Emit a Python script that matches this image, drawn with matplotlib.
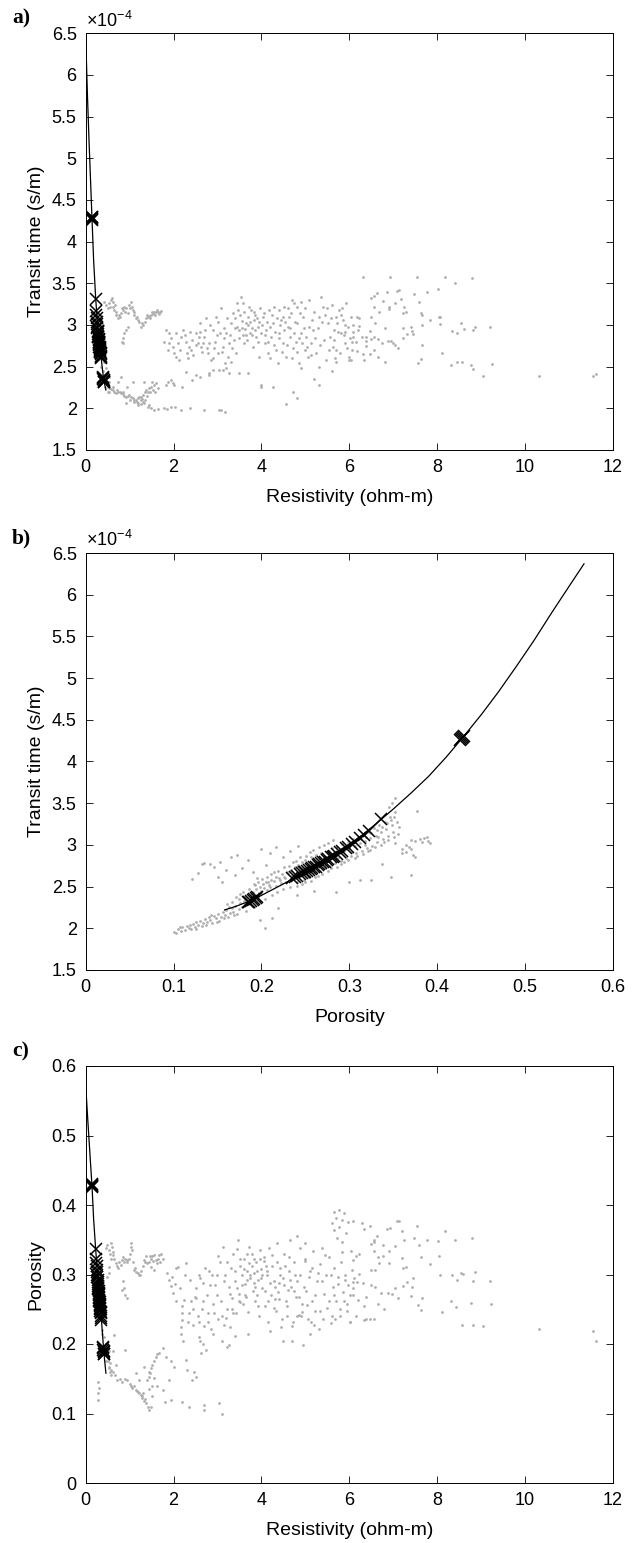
import matplotlib
matplotlib.use('Agg')
import matplotlib.pyplot as plt
import numpy as np
from matplotlib.ticker import FuncFormatter

plt.rcParams['font.family'] = ['Liberation Sans', 'DejaVu Sans']
plt.rcParams['mathtext.fontset'] = 'custom'
plt.rcParams['mathtext.rm'] = 'Liberation Sans'
plt.rcParams['mathtext.it'] = 'Liberation Sans:italic'

# transit time values are in units of 1e-4 s/m

# ---- fitted curve ----
curve_a_res = [0.005, 0.04, 0.08, 0.12, 0.143, 0.18, 0.227, 0.27, 0.32, 0.37, 0.41, 0.46]
curve_a_dt = [6.37, 5.75, 5.15, 4.60, 4.28, 3.78, 3.32, 3.00, 2.75, 2.52, 2.34, 2.22]
curve_b_phi = [0.158, 0.17, 0.19, 0.21, 0.23, 0.25, 0.27, 0.29, 0.31, 0.33, 0.35, 0.37,
               0.39, 0.41, 0.43, 0.45, 0.47, 0.49, 0.51, 0.53, 0.55, 0.567]
curve_b_dt = [2.22, 2.26, 2.34, 2.45, 2.56, 2.68, 2.81, 2.94, 3.08, 3.25, 3.43, 3.62,
              3.82, 4.05, 4.30, 4.56, 4.84, 5.14, 5.45, 5.78, 6.10, 6.37]
curve_c_res = [0.005, 0.04, 0.08, 0.12, 0.143, 0.18, 0.227, 0.27, 0.32, 0.37, 0.41, 0.46]
curve_c_phi = [0.567, 0.53, 0.49, 0.45, 0.428, 0.38, 0.336, 0.30, 0.265, 0.225, 0.19, 0.158]

# ---- inverted samples (x markers): resistivity, porosity, transit time ----
mk_res = [0.143, 0.146, 0.140, 0.148, 0.138,
          0.227, 0.240, 0.245, 0.250, 0.256, 0.260, 0.264, 0.267, 0.272, 0.275, 0.279,
          0.283, 0.286, 0.289, 0.293, 0.296, 0.299, 0.302, 0.305, 0.308, 0.311, 0.314,
          0.317, 0.320, 0.323, 0.326, 0.329, 0.332, 0.335, 0.338, 0.341, 0.345, 0.350, 0.354,
          0.410, 0.405, 0.415, 0.400, 0.420, 0.425, 0.395]
mk_phi = [0.428, 0.427, 0.429, 0.426, 0.430,
          0.336, 0.322, 0.317, 0.312, 0.306, 0.303, 0.299, 0.296, 0.292, 0.289, 0.286,
          0.283, 0.281, 0.279, 0.276, 0.274, 0.272, 0.270, 0.268, 0.266, 0.264, 0.262,
          0.260, 0.258, 0.256, 0.254, 0.252, 0.250, 0.248, 0.246, 0.244, 0.241, 0.238, 0.235,
          0.190, 0.194, 0.186, 0.192, 0.188, 0.185, 0.195]
mk_dt = [4.28, 4.27, 4.29, 4.26, 4.30,
         3.31, 3.17, 3.12, 3.08, 3.03, 3.01, 2.98, 2.96, 2.93, 2.91, 2.89,
         2.87, 2.86, 2.85, 2.83, 2.82, 2.80, 2.79, 2.78, 2.77, 2.76, 2.74,
         2.73, 2.72, 2.71, 2.70, 2.69, 2.68, 2.67, 2.66, 2.65, 2.63, 2.61, 2.60,
         2.34, 2.36, 2.32, 2.35, 2.33, 2.31, 2.37]

# ---- panel a: resistivity vs transit time (gray log data) ----
a_upper_band = [(0.42, 3.28), (0.46, 3.24), (0.50, 3.20), (0.54, 3.26), (0.58, 3.30), (0.61, 3.28),
                (0.63, 3.22), (0.65, 3.18), (0.69, 3.12), (0.73, 3.08), (0.77, 3.10), (0.80, 3.14),
                (0.84, 3.18), (0.88, 3.22), (0.92, 3.20), (0.96, 3.14), (0.99, 3.24), (1.03, 3.27),
                (1.07, 3.18), (1.11, 3.12), (1.15, 3.08), (1.19, 3.06), (1.22, 3.04), (1.26, 2.98),
                (1.30, 3.00), (1.34, 3.04), (1.37, 3.08), (1.41, 3.10), (1.45, 3.11), (1.49, 3.12),
                (1.53, 3.13), (1.56, 3.15), (1.60, 3.16), (1.64, 3.15), (1.68, 3.16), (1.71, 3.17),
                (1.50, 3.15), (1.58, 3.12), (0.60, 3.32), (0.70, 3.15), (1.00, 3.20), (1.10, 3.16),
                (0.56, 3.22), (0.66, 3.24), (0.75, 3.12), (0.82, 3.20), (0.90, 3.16), (1.05, 3.22),
                (1.17, 3.10), (1.28, 3.02), (1.39, 3.12), (1.47, 3.08), (1.62, 3.18), (1.66, 3.13)]
a_drop = [(0.84, 2.84), (0.83, 2.80), (0.88, 2.90), (0.92, 2.94), (0.96, 2.97), (0.86, 2.78)]
a_lower_band = [(0.46, 2.30), (0.50, 2.26), (0.54, 2.24), (0.58, 2.23), (0.61, 2.22), (0.65, 2.20),
                (0.69, 2.18), (0.73, 2.19), (0.77, 2.20), (0.80, 2.18), (0.84, 2.17), (0.88, 2.15),
                (0.92, 2.14), (0.96, 2.15), (0.99, 2.16), (1.03, 2.14), (1.07, 2.12), (1.11, 2.10),
                (1.14, 2.10), (1.18, 2.12), (1.22, 2.13), (1.26, 2.14), (1.30, 2.16), (1.34, 2.19),
                (1.37, 2.22), (1.41, 2.20), (1.45, 2.24), (1.49, 2.26), (1.53, 2.22), (1.56, 2.28),
                (1.60, 2.30), (1.64, 2.24), (1.83, 2.28), (1.87, 2.32), (1.94, 2.34), (1.98, 2.30),
                (2.02, 2.28), (0.54, 2.38), (0.80, 2.38), (1.07, 2.32), (1.33, 2.32), (0.95, 2.26),
                (0.73, 2.32), (1.25, 2.05), (1.30, 2.08), (1.35, 2.10), (1.20, 2.06), (0.52, 2.20),
                (0.63, 2.25), (0.71, 2.22), (0.86, 2.20), (1.01, 2.10), (1.16, 2.08), (1.28, 2.11),
                (1.39, 2.15), (1.47, 2.19), (1.58, 2.20), (1.52, 2.32)]
a_floor = [(0.92, 2.06), (1.10, 2.08), (1.18, 2.04), (1.26, 2.10), (1.33, 2.06), (1.41, 2.02),
           (1.44, 2.04), (1.49, 2.00), (1.56, 1.98), (1.65, 1.99), (1.79, 2.00), (1.86, 1.99),
           (1.94, 2.02), (2.03, 2.02), (2.17, 1.98), (2.37, 2.00), (2.70, 1.98), (3.04, 1.98),
           (3.08, 1.98), (3.17, 1.96)]
a_near_curve = [(0.35, 2.50), (0.40, 2.45), (0.45, 2.40), (0.38, 2.60), (0.42, 2.55), (0.36, 2.75),
                (0.40, 2.70), (0.38, 2.90), (0.42, 2.85), (0.40, 3.00), (0.45, 2.25), (0.50, 2.20),
                (0.48, 2.28), (0.52, 2.32), (0.44, 2.62), (0.46, 2.48)]
a_cloud = [(1.83, 2.94), (1.89, 2.90), (1.90, 2.78), (1.94, 2.84), (1.87, 2.70), (1.79, 2.80),
           (1.98, 2.74), (2.02, 2.66), (2.06, 2.90), (2.13, 2.58), (2.17, 2.86), (2.21, 2.94),
           (2.28, 2.80), (2.36, 2.74), (2.43, 2.82), (2.51, 2.90), (2.59, 3.02), (2.62, 2.74),
           (2.70, 2.86), (2.74, 3.08), (2.81, 2.78), (2.85, 2.58), (2.89, 2.94), (2.97, 3.10),
           (3.00, 2.66), (3.04, 2.46), (3.08, 3.20), (3.12, 2.74), (3.16, 2.54), (3.19, 2.90),
           (3.23, 2.62), (3.27, 2.42), (3.31, 3.02), (3.35, 3.14), (3.38, 2.82), (3.42, 2.66),
           (3.46, 3.18), (3.50, 2.94), (3.53, 3.34), (3.57, 3.26), (3.61, 2.78), (3.65, 3.02),
           (3.69, 3.10), (3.73, 2.90), (3.76, 3.18), (3.80, 2.74), (3.84, 3.06), (3.88, 2.86),
           (3.92, 2.98), (3.95, 2.62), (3.99, 2.28), (4.03, 3.10), (4.07, 2.78), (4.11, 2.94),
           (4.14, 2.66), (4.18, 3.18), (4.22, 2.86), (4.26, 3.02), (4.29, 3.22), (4.33, 2.70),
           (4.37, 2.54), (4.41, 2.90), (4.45, 3.06), (4.48, 2.78), (4.52, 3.22), (4.56, 2.62),
           (4.60, 2.98), (4.64, 2.86), (4.67, 3.14), (4.71, 2.72), (4.75, 3.26), (4.79, 2.80),
           (4.82, 3.02), (4.86, 2.54), (4.90, 2.90), (4.94, 3.10), (4.98, 2.70), (5.01, 2.86),
           (5.05, 2.62), (5.09, 3.30), (5.13, 2.78), (5.17, 2.94), (5.24, 2.66), (5.32, 3.10),
           (5.36, 3.34), (5.40, 3.22), (5.43, 2.82), (5.47, 2.58), (5.51, 3.02), (5.55, 2.86),
           (5.62, 2.74), (5.66, 2.94), (5.70, 3.10), (5.73, 3.02), (5.77, 3.18), (5.81, 2.90),
           (5.85, 3.06), (5.89, 2.78), (5.93, 3.26), (5.96, 2.98), (6.00, 2.62), (6.04, 3.10),
           (3.55, 3.05), (3.62, 2.95), (3.70, 3.00), (3.78, 2.96), (3.86, 3.12), (3.94, 3.04),
           (4.00, 2.90), (3.45, 2.98), (3.40, 3.08), (3.58, 2.88), (2.40, 2.70), (2.55, 2.78),
           (2.65, 2.68), (2.75, 2.72), (2.95, 2.80), (3.05, 2.90), (3.15, 2.84), (3.25, 2.78),
           (3.30, 2.55), (3.20, 2.48), (2.90, 2.60), (2.60, 2.92), (2.30, 2.66), (2.10, 2.78),
           (4.40, 3.18), (4.50, 3.10), (4.60, 3.20), (4.70, 3.30), (4.80, 3.22), (4.90, 3.28),
           (5.20, 3.16), (5.50, 3.20), (5.60, 3.24), (5.80, 3.12), (5.90, 2.92), (5.70, 2.70),
           (5.30, 2.50), (4.20, 2.60), (4.90, 2.48), (2.50, 2.40), (2.80, 2.42)]
a_cloud_extra = [(2.05, 2.62), (2.15, 2.70), (2.25, 2.88), (2.32, 2.60), (2.38, 2.92), (2.45, 2.64),
                 (2.52, 2.76), (2.58, 2.86), (2.68, 2.78), (2.72, 2.94), (2.78, 2.66), (2.84, 3.00),
                 (2.92, 2.72), (2.99, 2.88), (3.02, 3.04), (3.10, 2.68), (3.14, 2.96), (3.22, 3.08),
                 (3.28, 2.88), (3.34, 2.72), (3.40, 2.96), (3.44, 3.26), (3.48, 2.84), (3.52, 3.12),
                 (3.56, 2.96), (3.60, 3.16), (3.64, 2.88), (3.68, 2.82), (3.72, 3.22), (3.74, 3.04),
                 (3.79, 2.88), (3.82, 3.16), (3.85, 2.94), (3.90, 3.08), (3.93, 2.80), (3.97, 3.20),
                 (4.01, 3.00), (4.06, 3.14), (4.09, 2.88), (4.13, 3.04), (4.16, 2.80), (4.20, 2.98),
                 (4.24, 3.12), (4.28, 2.76), (4.31, 2.92), (4.35, 3.08), (4.39, 2.84), (4.43, 3.00),
                 (4.47, 2.68), (4.51, 2.94), (4.54, 3.04), (4.58, 2.76), (4.62, 3.10), (4.66, 2.96),
                 (4.69, 2.60), (4.73, 2.90), (4.77, 3.04), (4.81, 2.68), (4.85, 2.84), (4.88, 3.14),
                 (4.92, 2.78), (4.96, 2.96), (5.00, 3.20), (5.04, 2.74), (5.08, 2.98), (5.12, 2.64),
                 (5.16, 3.06), (5.22, 2.84), (5.28, 2.96), (5.34, 2.76), (5.38, 3.04), (5.45, 3.12),
                 (5.53, 2.70), (5.58, 3.08), (5.64, 2.82), (5.68, 2.60), (5.75, 2.92), (5.79, 2.66),
                 (5.83, 3.20), (5.87, 2.88), (5.91, 3.00), (5.95, 2.72), (6.02, 2.84)]
a_low_scatter = [(2.89, 2.46), (2.81, 2.40), (3.12, 2.46), (3.69, 2.42), (4.26, 2.26), (4.71, 2.20),
                 (2.28, 2.44), (2.20, 2.26), (2.43, 2.34), (2.59, 2.38), (4.00, 2.25), (4.55, 2.05),
                 (3.50, 2.42), (5.20, 2.35), (5.30, 2.28), (5.60, 2.45), (5.70, 2.55), (6.00, 2.58),
                 (4.80, 2.12)]
a_right = [(6.32, 3.57), (6.93, 3.58), (7.53, 3.58), (8.17, 3.57), (8.79, 3.56), (8.41, 3.50),
           (8.02, 3.43), (7.76, 3.40), (7.48, 3.37), (7.12, 3.42), (7.09, 3.41), (6.85, 3.39),
           (6.62, 3.38), (6.56, 3.35), (6.50, 3.32), (6.77, 3.29), (7.18, 3.31), (7.04, 3.26),
           (6.90, 3.22), (6.90, 3.19), (7.59, 3.28), (7.62, 3.14), (7.66, 3.12), (7.29, 3.16),
           (7.21, 3.14), (7.24, 3.21), (8.06, 3.10), (7.84, 3.06), (6.68, 3.16), (6.55, 3.22),
           (6.49, 3.09), (6.58, 3.02), (6.80, 2.96), (6.22, 3.08), (6.18, 3.09), (6.09, 3.00),
           (6.23, 2.99), (6.08, 2.92), (6.20, 2.94), (6.47, 2.93), (6.29, 2.85), (6.39, 2.85),
           (6.09, 2.85), (6.07, 2.80), (6.15, 2.79), (6.39, 2.81), (6.57, 2.86), (6.66, 2.83),
           (6.49, 2.83), (6.74, 2.78), (6.89, 2.81), (6.95, 2.81), (7.00, 2.78), (7.05, 2.76),
           (7.11, 2.72), (7.21, 2.84), (7.23, 2.96), (7.31, 2.89), (7.41, 2.98), (7.43, 2.93),
           (7.44, 2.89), (7.65, 3.00), (7.65, 2.76), (8.04, 3.09), (8.06, 3.01), (8.53, 3.02),
           (8.60, 2.95), (8.34, 2.93), (8.44, 2.90), (8.82, 2.94), (8.85, 2.98), (9.19, 2.98),
           (6.05, 2.70), (6.17, 2.69), (6.30, 2.65), (6.39, 2.75), (6.47, 2.65), (6.55, 2.70),
           (6.65, 2.61), (6.80, 2.56), (6.34, 2.58), (6.04, 2.58), (7.56, 2.54), (7.62, 2.59),
           (8.11, 2.66), (8.31, 2.52), (8.44, 2.56), (8.57, 2.55), (8.77, 2.52), (8.81, 2.47),
           (9.24, 2.53), (9.05, 2.39), (10.32, 2.39), (11.55, 2.39), (11.61, 2.41)]

# ---- panel b: porosity vs transit time ----
b_band = [(0.100, 1.96), (0.103, 1.94), (0.105, 1.99), (0.108, 1.97), (0.110, 2.01), (0.113, 1.98),
          (0.115, 2.03), (0.117, 2.00), (0.120, 1.99), (0.122, 2.05), (0.124, 2.02), (0.126, 2.07),
          (0.128, 2.04), (0.130, 2.09), (0.132, 2.03), (0.134, 2.06), (0.136, 2.11), (0.138, 2.08),
          (0.140, 2.13), (0.142, 2.10), (0.144, 2.06), (0.146, 2.15), (0.148, 2.12), (0.150, 2.17),
          (0.152, 2.09), (0.154, 2.14), (0.156, 2.19), (0.158, 2.16), (0.160, 2.22), (0.162, 2.13),
          (0.164, 2.18), (0.166, 2.24), (0.168, 2.20), (0.170, 2.27), (0.172, 2.17), (0.174, 2.23),
          (0.176, 2.30), (0.178, 2.26), (0.180, 2.33), (0.182, 2.21), (0.184, 2.36), (0.186, 2.29),
          (0.188, 2.40), (0.190, 2.44), (0.192, 2.26), (0.194, 2.47), (0.196, 2.38), (0.198, 2.50),
          (0.200, 2.42), (0.202, 2.53), (0.204, 2.35), (0.206, 2.46), (0.208, 2.55), (0.210, 2.49),
          (0.212, 2.40), (0.214, 2.57), (0.216, 2.51), (0.218, 2.44), (0.220, 2.60), (0.222, 2.54),
          (0.224, 2.47), (0.226, 2.62), (0.228, 2.56), (0.230, 2.66), (0.232, 2.50), (0.234, 2.70),
          (0.236, 2.59), (0.238, 2.73), (0.240, 2.55), (0.242, 2.76), (0.244, 2.64), (0.246, 2.79),
          (0.248, 2.58), (0.250, 2.82), (0.252, 2.70), (0.254, 2.62), (0.256, 2.85), (0.258, 2.74),
          (0.260, 2.66), (0.262, 2.88), (0.264, 2.78), (0.266, 2.69), (0.268, 2.90), (0.270, 2.81),
          (0.272, 2.72), (0.274, 2.93), (0.276, 2.84), (0.278, 2.75), (0.280, 2.96), (0.282, 2.87),
          (0.284, 2.78), (0.286, 2.98), (0.288, 2.90), (0.290, 2.81), (0.292, 3.01), (0.294, 2.93),
          (0.296, 2.84), (0.298, 3.04), (0.300, 2.96), (0.302, 2.87), (0.304, 3.07), (0.306, 2.99),
          (0.308, 2.90), (0.310, 3.10), (0.312, 3.02), (0.314, 2.93), (0.316, 3.13), (0.318, 3.05),
          (0.320, 2.96), (0.322, 3.16), (0.324, 3.08), (0.326, 2.99), (0.328, 3.20), (0.330, 3.11),
          (0.332, 3.03), (0.334, 3.24), (0.336, 3.15), (0.338, 3.07), (0.340, 3.28), (0.342, 3.19),
          (0.344, 3.11), (0.346, 3.33), (0.348, 3.24), (0.350, 3.16), (0.352, 3.40), (0.354, 3.28),
          (0.349, 3.50), (0.352, 3.56), (0.356, 3.22), (0.345, 3.45),
          (0.107, 2.02), (0.119, 2.04), (0.125, 1.99), (0.137, 2.04), (0.143, 2.16), (0.149, 2.07),
          (0.157, 2.12), (0.163, 2.25), (0.169, 2.16), (0.175, 2.35), (0.181, 2.38), (0.187, 2.34),
          (0.193, 2.52), (0.199, 2.45), (0.205, 2.56), (0.211, 2.58), (0.217, 2.62), (0.223, 2.65),
          (0.229, 2.68), (0.235, 2.64), (0.241, 2.68), (0.247, 2.72), (0.253, 2.76), (0.259, 2.80),
          (0.265, 2.84), (0.271, 2.86), (0.277, 2.90), (0.283, 2.92), (0.289, 2.95), (0.295, 2.98),
          (0.301, 3.02), (0.307, 3.05), (0.313, 3.07), (0.319, 3.10), (0.325, 3.14), (0.331, 3.18),
          (0.337, 3.22), (0.343, 3.26), (0.347, 3.30), (0.351, 3.34)]
b_band_upper = [(0.161, 2.29), (0.166, 2.31), (0.171, 2.38), (0.176, 2.41), (0.179, 2.44), (0.186, 2.47),
                (0.191, 2.53), (0.196, 2.55), (0.201, 2.59), (0.206, 2.61), (0.211, 2.65), (0.214, 2.67),
                (0.219, 2.69), (0.226, 2.73), (0.231, 2.75), (0.236, 2.79), (0.239, 2.81), (0.244, 2.85),
                (0.251, 2.87), (0.255, 2.92), (0.259, 2.94), (0.266, 2.97), (0.271, 3.00), (0.276, 3.02),
                (0.281, 3.06), (0.197, 2.42), (0.203, 2.48), (0.209, 2.52), (0.221, 2.58), (0.227, 2.60)]
b_band_lower = [(0.241, 2.51), (0.246, 2.53), (0.249, 2.56), (0.256, 2.57), (0.261, 2.61), (0.264, 2.63),
                (0.269, 2.65), (0.276, 2.69), (0.279, 2.72), (0.286, 2.73), (0.291, 2.77), (0.294, 2.79),
                (0.299, 2.82), (0.306, 2.84), (0.309, 2.87), (0.316, 2.89), (0.321, 2.93), (0.324, 2.94),
                (0.329, 2.98), (0.336, 3.00), (0.339, 3.04), (0.344, 3.06), (0.351, 3.09), (0.355, 3.13),
                (0.333, 3.10), (0.318, 3.00), (0.303, 2.92), (0.287, 2.84), (0.272, 2.76), (0.257, 2.68)]
b_upper_left = [(0.121, 2.59), (0.132, 2.77), (0.135, 2.78), (0.141, 2.77), (0.146, 2.74), (0.153, 2.80),
                (0.160, 2.70), (0.165, 2.85), (0.172, 2.88), (0.178, 2.72), (0.185, 2.82), (0.190, 2.68),
                (0.200, 2.95), (0.205, 2.76), (0.210, 2.90), (0.217, 2.98), (0.225, 2.86), (0.232, 2.93),
                (0.242, 2.99), (0.150, 2.62), (0.170, 2.64), (0.195, 2.60), (0.128, 2.66), (0.155, 2.55)]
b_lower = [(0.204, 2.00), (0.198, 2.10), (0.212, 2.12), (0.219, 2.24), (0.285, 2.43), (0.312, 2.58),
           (0.325, 2.58), (0.337, 2.77), (0.347, 2.61), (0.352, 3.02), (0.260, 2.45), (0.240, 2.40),
           (0.300, 2.55)]
b_right = [(0.360, 2.90), (0.365, 2.92), (0.370, 2.95), (0.375, 3.05), (0.380, 3.07), (0.385, 3.08),
           (0.390, 3.05), (0.392, 3.02), (0.370, 3.06), (0.365, 3.00), (0.372, 2.88), (0.375, 2.85),
           (0.377, 3.41), (0.370, 2.64), (0.360, 2.95), (0.383, 3.03), (0.388, 3.10), (0.368, 2.98)]

# ---- panel c: resistivity vs porosity ----
c_upper_band = [(0.46, 0.338), (0.49, 0.342), (0.53, 0.335), (0.57, 0.345), (0.59, 0.340), (0.61, 0.333),
                (0.62, 0.328), (0.57, 0.323), (0.53, 0.311), (0.52, 0.302), (0.49, 0.297), (0.68, 0.316),
                (0.72, 0.312), (0.76, 0.318), (0.80, 0.314), (0.83, 0.321), (0.87, 0.318), (0.90, 0.323),
                (0.95, 0.321), (0.99, 0.323), (1.02, 0.345), (1.04, 0.340), (1.06, 0.335), (1.08, 0.318),
                (1.10, 0.306), (1.14, 0.304), (1.18, 0.302), (1.21, 0.299), (1.26, 0.305), (1.30, 0.312),
                (1.33, 0.321), (1.37, 0.326), (1.40, 0.316), (1.44, 0.318), (1.48, 0.323), (1.52, 0.326),
                (1.56, 0.328), (1.59, 0.321), (1.63, 0.316), (1.67, 0.328), (1.71, 0.330), (1.75, 0.323),
                (1.48, 0.311), (1.56, 0.306), (0.55, 0.330), (0.64, 0.322), (0.74, 0.310), (0.85, 0.325),
                (0.93, 0.318), (1.00, 0.330), (1.12, 0.310), (1.24, 0.300), (1.35, 0.318), (1.46, 0.326),
                (1.54, 0.320), (1.65, 0.322), (1.70, 0.318)]
c_drop = [(0.87, 0.280), (0.90, 0.270), (0.93, 0.266), (0.83, 0.278), (0.85, 0.290)]
c_strand = [(1.86, 0.302), (1.90, 0.292), (1.93, 0.283), (1.99, 0.273), (2.03, 0.287), (1.96, 0.297),
            (2.05, 0.309), (2.09, 0.311), (2.20, 0.244), (2.19, 0.235), (2.16, 0.225), (2.20, 0.254),
            (2.24, 0.263), (2.18, 0.215), (2.22, 0.205)]
c_lower_band = [(0.53, 0.167), (0.58, 0.162), (0.61, 0.160), (0.66, 0.155), (0.72, 0.148), (0.78, 0.150),
                (0.83, 0.146), (0.90, 0.150), (0.95, 0.148), (1.00, 0.142), (1.06, 0.136), (1.10, 0.140),
                (1.14, 0.134), (1.18, 0.131), (1.21, 0.129), (1.25, 0.126), (1.29, 0.122), (1.33, 0.118),
                (1.37, 0.115), (1.41, 0.110), (1.44, 0.105), (1.48, 0.110), (1.40, 0.148), (1.44, 0.160),
                (1.48, 0.165), (1.52, 0.170), (1.56, 0.176), (1.59, 0.182), (1.63, 0.185), (1.67, 0.187),
                (1.75, 0.194), (1.82, 0.182), (1.93, 0.175), (2.01, 0.167), (1.90, 0.148), (1.75, 0.134),
                (1.63, 0.139), (1.56, 0.151), (1.33, 0.167), (1.21, 0.148), (1.14, 0.158), (1.45, 0.135),
                (1.50, 0.125), (1.52, 0.140), (0.46, 0.175), (0.50, 0.180), (0.55, 0.172), (0.48, 0.200),
                (0.52, 0.190), (0.62, 0.190), (0.70, 0.170), (0.65, 0.213), (0.90, 0.191), (1.03, 0.139),
                (1.16, 0.132), (1.27, 0.125), (1.35, 0.121), (1.43, 0.152), (1.46, 0.158), (1.30, 0.130)]
c_near_curve = [(0.38, 0.220), (0.42, 0.210), (0.45, 0.190), (0.48, 0.185), (0.50, 0.175), (0.40, 0.250),
                (0.42, 0.270), (0.40, 0.290), (0.44, 0.240), (0.55, 0.160), (0.58, 0.155), (0.52, 0.165),
                (0.36, 0.215), (0.46, 0.200), (0.27, 0.146), (0.28, 0.129), (0.27, 0.120), (0.30, 0.136)]
c_low_right = [(2.20, 0.117), (2.35, 0.110), (2.69, 0.112), (2.69, 0.105), (3.03, 0.115), (3.11, 0.100),
               (2.47, 0.160), (2.50, 0.153), (2.43, 0.148), (2.62, 0.187), (2.73, 0.191), (2.28, 0.177),
               (2.31, 0.163), (2.58, 0.210), (2.66, 0.200), (3.22, 0.196), (3.26, 0.199), (1.95, 0.120),
               (1.80, 0.117)]
c_cloud = [(2.28, 0.316), (2.35, 0.245), (2.40, 0.262), (2.45, 0.228), (2.50, 0.280), (2.55, 0.240),
           (2.60, 0.295), (2.65, 0.250), (2.70, 0.226), (2.75, 0.270), (2.80, 0.305), (2.85, 0.222),
           (2.90, 0.258), (2.95, 0.285), (3.00, 0.236), (3.05, 0.318), (3.08, 0.262), (3.12, 0.340),
           (3.15, 0.228), (3.18, 0.300), (3.22, 0.250), (3.25, 0.282), (3.28, 0.225), (3.30, 0.310),
           (3.33, 0.266), (3.36, 0.330), (3.40, 0.290), (3.42, 0.245), (3.46, 0.350), (3.50, 0.272),
           (3.52, 0.312), (3.55, 0.300), (3.58, 0.258), (3.60, 0.322), (3.63, 0.286), (3.66, 0.305),
           (3.70, 0.246), (3.72, 0.316), (3.75, 0.295), (3.78, 0.330), (3.80, 0.276), (3.83, 0.302),
           (3.86, 0.262), (3.88, 0.318), (3.92, 0.292), (3.95, 0.240), (3.98, 0.308), (4.02, 0.280),
           (4.05, 0.325), (4.08, 0.255), (4.12, 0.300), (4.15, 0.232), (4.18, 0.338), (4.22, 0.270),
           (4.25, 0.312), (4.28, 0.290), (4.32, 0.248), (4.35, 0.345), (4.38, 0.275), (4.42, 0.310),
           (4.45, 0.225), (4.48, 0.295), (4.52, 0.330), (4.55, 0.262), (4.58, 0.240), (4.62, 0.305),
           (4.65, 0.350), (4.68, 0.282), (4.72, 0.232), (4.75, 0.318), (4.78, 0.268), (4.82, 0.355),
           (4.85, 0.242), (4.88, 0.300), (4.92, 0.258), (4.95, 0.198), (4.98, 0.322), (5.02, 0.276),
           (5.06, 0.236), (5.10, 0.305), (5.14, 0.262), (5.18, 0.334), (5.22, 0.248), (5.26, 0.290),
           (5.30, 0.222), (5.34, 0.315), (5.38, 0.338), (5.42, 0.272), (5.46, 0.300), (5.50, 0.252),
           (5.54, 0.325), (5.58, 0.230), (5.62, 0.282), (5.66, 0.310), (5.70, 0.262), (5.74, 0.296),
           (5.78, 0.240), (5.82, 0.318), (5.86, 0.275), (5.90, 0.300), (5.94, 0.258), (5.98, 0.285),
           (6.02, 0.231), (2.60, 0.205), (2.90, 0.215), (3.10, 0.205), (3.40, 0.212), (3.70, 0.215),
           (4.20, 0.218), (4.70, 0.205), (4.50, 0.204), (5.10, 0.215), (3.52, 0.260), (3.62, 0.270),
           (3.45, 0.280), (3.90, 0.270), (4.00, 0.295), (4.10, 0.312), (3.68, 0.330), (3.82, 0.288),
           (3.96, 0.322), (4.40, 0.288), (4.60, 0.278), (4.80, 0.290), (5.00, 0.345), (2.48, 0.268),
           (2.58, 0.232), (2.68, 0.288), (2.78, 0.244), (2.88, 0.300), (2.98, 0.270), (3.20, 0.238),
           (3.35, 0.245), (4.30, 0.265), (4.90, 0.240), (5.20, 0.228), (5.60, 0.240), (5.40, 0.236)]
c_cloud_extra = [(2.05, 0.262), (2.15, 0.280), (2.25, 0.300), (2.32, 0.232), (2.38, 0.292), (2.45, 0.250),
                 (2.52, 0.266), (2.58, 0.300), (2.68, 0.262), (2.72, 0.310), (2.78, 0.232), (2.84, 0.285),
                 (2.92, 0.245), (2.99, 0.300), (3.02, 0.326), (3.10, 0.240), (3.14, 0.290), (3.22, 0.318),
                 (3.28, 0.272), (3.34, 0.250), (3.40, 0.305), (3.44, 0.336), (3.48, 0.262), (3.52, 0.322),
                 (3.56, 0.285), (3.60, 0.308), (3.64, 0.268), (3.68, 0.292), (3.72, 0.340), (3.74, 0.300),
                 (3.79, 0.312), (3.82, 0.322), (3.85, 0.282), (3.90, 0.305), (3.93, 0.255), (3.97, 0.335),
                 (4.01, 0.300), (4.06, 0.320), (4.09, 0.276), (4.13, 0.305), (4.16, 0.262), (4.20, 0.288),
                 (4.24, 0.328), (4.28, 0.252), (4.31, 0.282), (4.35, 0.318), (4.39, 0.265), (4.43, 0.300),
                 (4.47, 0.236), (4.51, 0.285), (4.54, 0.312), (4.58, 0.255), (4.62, 0.325), (4.66, 0.292),
                 (4.69, 0.226), (4.73, 0.276), (4.77, 0.300), (4.81, 0.240), (4.85, 0.268), (4.88, 0.338),
                 (4.92, 0.246), (4.96, 0.282), (5.00, 0.320), (5.04, 0.256), (5.08, 0.296), (5.12, 0.232),
                 (5.16, 0.310), (5.22, 0.270), (5.28, 0.302), (5.34, 0.248), (5.38, 0.290), (5.45, 0.328),
                 (5.53, 0.262), (5.58, 0.300), (5.64, 0.270), (5.68, 0.236), (5.75, 0.286), (5.79, 0.250),
                 (5.83, 0.332), (5.87, 0.262), (5.91, 0.292), (5.95, 0.248), (6.02, 0.270)]
c_loop = [(5.65, 0.390), (5.77, 0.393), (5.88, 0.388), (5.61, 0.374), (5.65, 0.364), (5.73, 0.352),
          (5.84, 0.347), (5.92, 0.359), (5.96, 0.376), (5.84, 0.378), (5.77, 0.369), (5.70, 0.382)]
c_right = [(6.09, 0.377), (6.28, 0.374), (6.33, 0.365), (6.47, 0.370), (6.85, 0.366), (6.93, 0.367),
           (7.09, 0.377), (7.13, 0.377), (7.19, 0.363), (7.53, 0.370), (8.17, 0.362), (8.78, 0.353),
           (8.41, 0.350), (8.02, 0.348), (7.76, 0.350), (7.48, 0.352), (7.59, 0.343), (7.24, 0.349),
           (7.04, 0.341), (6.77, 0.342), (6.62, 0.356), (6.56, 0.350), (6.56, 0.347), (6.50, 0.344),
           (6.55, 0.334), (6.90, 0.334), (6.65, 0.325), (6.76, 0.326), (6.21, 0.330), (6.14, 0.326),
           (6.08, 0.321), (6.04, 0.334), (7.20, 0.324), (7.62, 0.325), (8.05, 0.326), (7.84, 0.315),
           (7.23, 0.310), (7.29, 0.311), (6.68, 0.316), (6.90, 0.317), (6.49, 0.306), (6.58, 0.307),
           (6.07, 0.307), (6.22, 0.301), (6.11, 0.295), (6.08, 0.289), (6.18, 0.289), (6.30, 0.288),
           (6.49, 0.285), (6.58, 0.282), (6.08, 0.280), (6.08, 0.270), (6.20, 0.264), (6.39, 0.267),
           (6.34, 0.254), (6.66, 0.258), (6.79, 0.251), (6.87, 0.273), (6.96, 0.272), (6.73, 0.274),
           (7.05, 0.280), (7.11, 0.266), (7.21, 0.283), (7.31, 0.289), (7.44, 0.295), (7.42, 0.282),
           (7.41, 0.269), (7.56, 0.256), (7.62, 0.249), (7.65, 0.266), (8.06, 0.299), (8.33, 0.299),
           (8.44, 0.292), (8.53, 0.302), (8.59, 0.301), (8.85, 0.303), (8.82, 0.291), (9.19, 0.290),
           (8.31, 0.262), (8.43, 0.253), (8.77, 0.259), (9.23, 0.257), (8.11, 0.246), (8.57, 0.228),
           (8.81, 0.227), (9.05, 0.226), (10.32, 0.221), (11.55, 0.218), (11.61, 0.204), (6.33, 0.234),
           (6.39, 0.236), (6.47, 0.236), (6.55, 0.236), (6.16, 0.240), (6.02, 0.231)]


def xy(*groups):
    pts = [p for g in groups for p in g]
    return np.array([p[0] for p in pts]), np.array([p[1] for p in pts])


a_x, a_y = xy(a_upper_band, a_drop, a_lower_band, a_floor, a_near_curve, a_cloud, a_cloud_extra,
              a_low_scatter, a_right)
b_x, b_y = xy(b_band, b_band_upper, b_band_lower, b_upper_left, b_lower, b_right)
c_x, c_y = xy(c_upper_band, c_drop, c_strand, c_lower_band, c_near_curve, c_low_right, c_cloud,
              c_cloud_extra, c_loop, c_right)

gray = '#afafaf'
fmt = FuncFormatter(lambda v, p: '%g' % round(v, 6))

W, H = 639, 1543
fig = plt.figure(figsize=(W / 100, H / 100), dpi=100)


def axes_px(left, right, top, bottom):
    return fig.add_axes([left / W, 1 - bottom / H, (right - left) / W, (bottom - top) / H])


ax_a = axes_px(85.7, 613, 33.3, 450)
ax_b = axes_px(85.7, 613, 553, 970)
ax_c = axes_px(85.7, 613, 1066, 1483)


def style(ax):
    ax.tick_params(direction='in', top=True, right=True, length=5, width=0.6,
                   labelsize=13, pad=6.5)
    for s in ax.spines.values():
        s.set_linewidth(0.7)
    ax.xaxis.set_major_formatter(fmt)
    ax.yaxis.set_major_formatter(fmt)


# a) resistivity vs transit time
ax_a.scatter(a_x, a_y, s=4, color=gray, linewidths=0, zorder=1)
ax_a.plot(curve_a_res, curve_a_dt, 'k-', lw=0.9, zorder=2)
ax_a.plot(mk_res, mk_dt, 'kx', ms=9, mew=1.1, zorder=3)
ax_a.set_xlim(0, 12)
ax_a.set_ylim(1.5, 6.5)
ax_a.set_xticks(np.arange(0, 13, 2))
ax_a.set_yticks(np.arange(1.5, 6.6, 0.5))
ax_a.set_xlabel('Resistivity (ohm-m)', fontsize=14, labelpad=9)
ax_a.set_ylabel('Transit time (s/m)', fontsize=14, labelpad=5)
style(ax_a)

# b) porosity vs transit time
ax_b.scatter(b_x, b_y, s=4, color=gray, linewidths=0, zorder=1)
ax_b.plot(curve_b_phi, curve_b_dt, 'k-', lw=0.9, zorder=2)
ax_b.plot(mk_phi, mk_dt, 'kx', ms=9, mew=1.1, zorder=3)
ax_b.set_xlim(0, 0.6)
ax_b.set_ylim(1.5, 6.5)
ax_b.set_xticks(np.arange(0, 0.61, 0.1))
ax_b.set_yticks(np.arange(1.5, 6.6, 0.5))
ax_b.set_xlabel('Porosity', fontsize=14, labelpad=9)
ax_b.set_ylabel('Transit time (s/m)', fontsize=14, labelpad=5)
style(ax_b)

# c) resistivity vs porosity
ax_c.scatter(c_x, c_y, s=4, color=gray, linewidths=0, zorder=1)
ax_c.plot(curve_c_res, curve_c_phi, 'k-', lw=0.9, zorder=2)
ax_c.plot(mk_res, mk_phi, 'kx', ms=9, mew=1.1, zorder=3)
ax_c.set_xlim(0, 12)
ax_c.set_ylim(0, 0.6)
ax_c.set_xticks(np.arange(0, 13, 2))
ax_c.set_yticks(np.arange(0, 0.61, 0.1))
ax_c.set_xlabel('Resistivity (ohm-m)', fontsize=14, labelpad=9)
ax_c.set_ylabel('Porosity', fontsize=14, labelpad=5)
style(ax_c)

for ax in (ax_a, ax_b):
    ax.text(0.0, 1.006, r'$\times 10^{-4}$', transform=ax.transAxes,
            fontsize=13, ha='left', va='bottom')

for lab, ypx in (('a)', 18.5), ('b)', 538.5), ('c)', 1051.5)):
    fig.text(12 / W, 1 - ypx / H, lab, fontsize=15.5, fontweight='bold',
             family='Liberation Serif', ha='left', va='center')

fig.savefig('out.png', dpi=100)
